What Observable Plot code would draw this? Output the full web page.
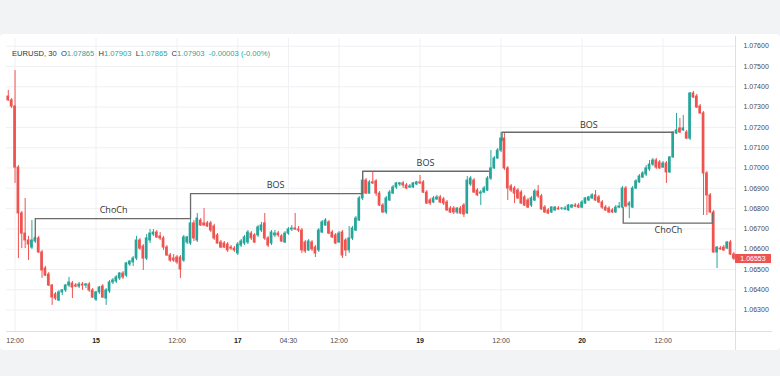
<!DOCTYPE html>
<html><head><meta charset="utf-8">
<script src="https://cdn.jsdelivr.net/npm/d3@7"></script>
<script src="https://cdn.jsdelivr.net/npm/@observablehq/plot@0.6"></script>
<style>
html,body{margin:0;padding:0;background:#f2f3f5;}
body{width:780px;height:376px;position:relative;overflow:hidden;font-family:"Liberation Sans",Arial,sans-serif;}
#card{position:absolute;left:0;top:34px;width:780px;height:316px;background:#fff;border-radius:4px;}
#chart{position:absolute;left:0;top:36px;}
#hdr{position:absolute;left:12px;top:49px;font-size:7.6px;line-height:10px;color:#333;white-space:pre;}
#hdr .v{color:#26a69a}
.sep{position:absolute;background:#dcdfe5}
#last{position:absolute;left:735px;width:36px;height:9px;background:#ef5350;color:#fff;font-size:7px;line-height:9px;text-align:center}
</style>
</head><body>
<div id="card"></div>
<div id="chart"></div>
<div class="sep" style="left:735px;top:36px;width:1px;height:314px"></div>
<div class="sep" style="left:6px;top:331px;width:766px;height:1px"></div>
<div id="hdr"></div>
<div id="last"></div>
<script>
// ---- data: EURUSD 30-minute candles (index = bar number) ----
const open = [
1.07352,1.07333,1.07303,1.07002,1.06776,1.06677,1.06643,1.06608,1.06638,1.06653,
1.06584,1.06505,1.06475,1.06421,1.06377,1.06347,1.06387,1.06397,1.06421,1.06431,
1.06421,1.06416,1.06426,1.06421,1.06426,1.06397,1.06352,1.06387,1.06416,1.06357,
1.06392,1.06436,1.06441,1.06456,1.06480,1.06470,1.06525,1.06535,1.06554,1.06643,
1.06613,1.06554,1.06643,1.06672,1.06682,1.06663,1.06653,1.06608,1.06569,1.06554,
1.06559,1.06559,1.06544,1.06633,1.06628,1.06727,1.06643,1.06741,1.06727,1.06727,
1.06727,1.06712,1.06668,1.06633,1.06628,1.06623,1.06608,1.06603,1.06579,1.06618,
1.06628,1.06633,1.06677,1.06668,1.06668,1.06692,1.06727,1.06653,1.06628,1.06668,
1.06677,1.06663,1.06633,1.06677,1.06697,1.06702,1.06697,1.06692,1.06633,1.06594,
1.06633,1.06608,1.06594,1.06682,1.06717,1.06732,1.06682,1.06668,1.06633,1.06682,
1.06643,1.06594,1.06653,1.06692,1.06741,1.06850,1.06938,1.06874,1.06929,1.06934,
1.06874,1.06815,1.06781,1.06840,1.06874,1.06904,1.06919,1.06924,1.06914,1.06904,
1.06904,1.06919,1.06929,1.06929,1.06879,1.06840,1.06830,1.06845,1.06855,1.06845,
1.06830,1.06800,1.06800,1.06781,1.06800,1.06815,1.06776,1.06919,1.06938,1.06889,
1.06874,1.06879,1.06889,1.06948,1.06998,1.07047,1.07086,1.07145,1.06998,1.06909,
1.06899,1.06889,1.06879,1.06855,1.06840,1.06815,1.06840,1.06884,1.06860,1.06805,
1.06791,1.06781,1.06791,1.06800,1.06800,1.06796,1.06791,1.06805,1.06815,1.06815,
1.06805,1.06825,1.06840,1.06850,1.06865,1.06855,1.06830,1.06805,1.06800,1.06791,
1.06781,1.06805,1.06805,1.06899,1.06815,1.06805,1.06899,1.06929,1.06953,1.06968,
1.06993,1.07017,1.07037,1.07027,1.07002,1.07022,1.06978,1.07052,1.07170,1.07195,
1.07185,1.07175,1.07145,1.07367,1.07352,1.07303,1.07269,1.06973,1.06865,1.06781,
1.06584,1.06603,1.06608,1.06603,1.06633,1.06574];
const high = [
1.07382,1.07342,1.07480,1.07012,1.06786,1.06850,1.06663,1.06741,1.06663,1.06663,
1.06594,1.06515,1.06485,1.06426,1.06387,1.06397,1.06401,1.06426,1.06461,1.06441,
1.06431,1.06436,1.06436,1.06431,1.06436,1.06406,1.06392,1.06416,1.06426,1.06406,
1.06446,1.06456,1.06470,1.06485,1.06490,1.06535,1.06544,1.06564,1.06663,1.06653,
1.06623,1.06672,1.06697,1.06697,1.06692,1.06682,1.06663,1.06618,1.06579,1.06574,
1.06569,1.06569,1.06668,1.06663,1.06751,1.06741,1.06776,1.06751,1.06800,1.06737,
1.06737,1.06722,1.06677,1.06643,1.06638,1.06633,1.06618,1.06613,1.06633,1.06648,
1.06668,1.06692,1.06687,1.06677,1.06717,1.06732,1.06776,1.06663,1.06692,1.06692,
1.06687,1.06672,1.06687,1.06707,1.06717,1.06776,1.06712,1.06702,1.06643,1.06648,
1.06643,1.06618,1.06702,1.06741,1.06751,1.06741,1.06692,1.06677,1.06687,1.06692,
1.06653,1.06712,1.06712,1.06761,1.06860,1.06983,1.06948,1.06938,1.06978,1.06943,
1.06884,1.06825,1.06860,1.06889,1.06914,1.06929,1.06929,1.06934,1.06924,1.06919,
1.06929,1.06934,1.06963,1.06938,1.06889,1.06850,1.06860,1.06865,1.06865,1.06855,
1.06840,1.06810,1.06810,1.06805,1.06810,1.06825,1.06958,1.06958,1.06948,1.06899,
1.06889,1.06909,1.06958,1.07086,1.07057,1.07096,1.07176,1.07170,1.07007,1.06919,
1.06909,1.06899,1.06889,1.06865,1.06850,1.06860,1.06894,1.06914,1.06870,1.06815,
1.06800,1.06810,1.06810,1.06810,1.06805,1.06810,1.06820,1.06820,1.06825,1.06825,
1.06840,1.06855,1.06860,1.06874,1.06889,1.06865,1.06840,1.06815,1.06810,1.06800,
1.06815,1.06830,1.06909,1.06909,1.06835,1.06909,1.06943,1.06968,1.06983,1.07012,
1.07037,1.07047,1.07047,1.07037,1.07032,1.07032,1.07057,1.07176,1.07269,1.07244,
1.07259,1.07185,1.07372,1.07377,1.07362,1.07313,1.07278,1.06983,1.06874,1.06791,
1.06613,1.06613,1.06618,1.06638,1.06643,1.06584];
const low = [
1.07328,1.07293,1.06924,1.06554,1.06603,1.06603,1.06544,1.06599,1.06628,1.06579,
1.06456,1.06465,1.06416,1.06323,1.06347,1.06342,1.06372,1.06387,1.06411,1.06357,
1.06411,1.06406,1.06397,1.06406,1.06387,1.06357,1.06342,1.06377,1.06357,1.06323,
1.06382,1.06426,1.06431,1.06446,1.06451,1.06461,1.06515,1.06515,1.06544,1.06594,
1.06495,1.06544,1.06628,1.06663,1.06653,1.06643,1.06594,1.06564,1.06535,1.06535,
1.06525,1.06456,1.06535,1.06623,1.06618,1.06638,1.06633,1.06712,1.06712,1.06707,
1.06682,1.06643,1.06623,1.06603,1.06603,1.06584,1.06594,1.06584,1.06569,1.06608,
1.06618,1.06623,1.06643,1.06628,1.06658,1.06682,1.06643,1.06608,1.06618,1.06658,
1.06658,1.06633,1.06628,1.06668,1.06687,1.06692,1.06682,1.06579,1.06579,1.06589,
1.06589,1.06559,1.06584,1.06677,1.06712,1.06672,1.06653,1.06623,1.06628,1.06554,
1.06564,1.06579,1.06643,1.06687,1.06737,1.06840,1.06870,1.06870,1.06919,1.06860,
1.06810,1.06776,1.06771,1.06835,1.06870,1.06894,1.06909,1.06899,1.06894,1.06899,
1.06899,1.06914,1.06919,1.06874,1.06820,1.06815,1.06825,1.06840,1.06825,1.06815,
1.06786,1.06776,1.06771,1.06771,1.06771,1.06756,1.06771,1.06909,1.06874,1.06860,
1.06815,1.06874,1.06884,1.06938,1.06993,1.07042,1.07076,1.06988,1.06840,1.06879,
1.06825,1.06845,1.06820,1.06810,1.06800,1.06805,1.06835,1.06850,1.06791,1.06776,
1.06771,1.06776,1.06786,1.06791,1.06791,1.06791,1.06786,1.06800,1.06805,1.06800,
1.06800,1.06820,1.06835,1.06845,1.06835,1.06825,1.06796,1.06786,1.06776,1.06776,
1.06776,1.06800,1.06800,1.06805,1.06751,1.06800,1.06894,1.06924,1.06948,1.06958,
1.06983,1.07007,1.06993,1.06993,1.06998,1.06924,1.06973,1.07047,1.07165,1.07170,
1.07180,1.07140,1.07135,1.07342,1.07293,1.07264,1.06766,1.06766,1.06776,1.06579,
1.06505,1.06594,1.06589,1.06599,1.06569,1.06544];
const close = [
1.07333,1.07303,1.07002,1.06776,1.06677,1.06643,1.06623,1.06643,1.06653,1.06584,
1.06495,1.06470,1.06421,1.06362,1.06357,1.06387,1.06397,1.06421,1.06436,1.06411,
1.06416,1.06426,1.06421,1.06426,1.06397,1.06362,1.06387,1.06411,1.06362,1.06397,
1.06436,1.06446,1.06461,1.06480,1.06461,1.06530,1.06539,1.06554,1.06643,1.06603,
1.06554,1.06653,1.06677,1.06682,1.06658,1.06653,1.06608,1.06569,1.06544,1.06544,
1.06535,1.06500,1.06658,1.06658,1.06727,1.06653,1.06751,1.06717,1.06717,1.06712,
1.06692,1.06653,1.06628,1.06608,1.06608,1.06594,1.06603,1.06594,1.06623,1.06638,
1.06658,1.06682,1.06653,1.06633,1.06707,1.06717,1.06653,1.06618,1.06682,1.06677,
1.06668,1.06638,1.06677,1.06697,1.06702,1.06697,1.06692,1.06594,1.06589,1.06638,
1.06599,1.06579,1.06692,1.06732,1.06741,1.06677,1.06658,1.06628,1.06677,1.06569,
1.06594,1.06653,1.06702,1.06751,1.06850,1.06938,1.06874,1.06929,1.06924,1.06874,
1.06815,1.06781,1.06850,1.06879,1.06904,1.06924,1.06924,1.06914,1.06899,1.06909,
1.06924,1.06929,1.06924,1.06879,1.06825,1.06825,1.06850,1.06855,1.06830,1.06825,
1.06791,1.06781,1.06781,1.06800,1.06776,1.06771,1.06938,1.06948,1.06879,1.06865,
1.06879,1.06899,1.06948,1.06998,1.07047,1.07086,1.07145,1.06998,1.06899,1.06889,
1.06874,1.06850,1.06825,1.06815,1.06805,1.06850,1.06884,1.06860,1.06796,1.06781,
1.06776,1.06805,1.06805,1.06796,1.06800,1.06800,1.06815,1.06815,1.06810,1.06805,
1.06830,1.06850,1.06855,1.06865,1.06840,1.06830,1.06805,1.06791,1.06781,1.06781,
1.06805,1.06810,1.06899,1.06810,1.06825,1.06899,1.06934,1.06958,1.06973,1.06998,
1.07017,1.07037,1.07002,1.06998,1.07022,1.06978,1.07052,1.07175,1.07185,1.07175,
1.07195,1.07145,1.07367,1.07347,1.07298,1.07269,1.06973,1.06865,1.06781,1.06584,
1.06608,1.06599,1.06594,1.06633,1.06574,1.06553];

// axis ticks
const priceTicks = [1.063,1.064,1.065,1.066,1.067,1.068,1.069,1.070,1.071,1.072,1.073,1.074,1.075,1.076];
const timeTickIdx = [2, 26, 50, 68, 83, 98, 122, 146, 170, 194];
const timeTickLabels = ["12:00","15","12:00","17","04:30","12:00","19","12:00","20","12:00"];

// market-structure annotations (bar index, price)
const structId = ["a","a","a","a","a","a","a","b","b","b","c","c","c","c"];
const structK  = [8, 8, 54, 54, 105, 105, 142.3, 146.3, 146.3, 197, 182.2, 182.2, 208.6, 208.6];
const structP  = [1.06653,1.06751,1.06751,1.06874,1.06874,1.06984,1.06984,1.07135,1.07176,1.07176,1.06805,1.06728,1.06728,1.06776];
const labelText = ["ChoCh","BOS","BOS","BOS","ChoCh"];
const labelK    = [31.2, 79.2, 123.6, 172, 195.6];
const labelP    = [1.06791, 1.06914, 1.07022, 1.07209, 1.06692];

// header values
const symbol = "EURUSD, 30";
const ohlcHeader = [["O","1.07865"],["H","1.07903"],["L","1.07865"],["C","1.07903"]];
const changeText = "-0.00003 (-0.00%)";
const lastPrice = close[close.length - 1];

// ---- build ----
const UP = "#26a69a", DOWN = "#ef5350";
const candles = open.map((o, i) => ({i, o, h: high[i], l: low[i], c: close[i], dir: close[i] >= o ? "up" : "down"}));
const structure = structK.map((k, j) => ({k, p: structP[j], id: structId[j]}));
const labels = labelText.map((t, j) => ({t, k: labelK[j], p: labelP[j]}));
const labelMap = new Map(timeTickIdx.map((k, j) => [k, timeTickLabels[j]]));
const dayTicks = timeTickIdx.filter(k => !labelMap.get(k).includes(":"));
const timeTicks = timeTickIdx.filter(k => labelMap.get(k).includes(":"));

const plot = Plot.plot({
  width: 780, height: 314,
  marginLeft: 6, marginRight: 45, marginTop: 2, marginBottom: 19,
  x: {domain: [-0.53, 215.47], label: null},
  y: {domain: [1.061946, 1.076379], label: null},
  color: {domain: ["up", "down"], range: [UP, DOWN]},
  style: {background: "transparent", fontFamily: "'Liberation Sans', Arial, sans-serif", fontSize: "7px", color: "#4a4a4a"},
  marks: [
    Plot.gridY(priceTicks, {stroke: "#eef0f4", strokeOpacity: 1}),
    Plot.gridX(timeTickIdx, {stroke: "#eef0f4", strokeOpacity: 1}),
    Plot.ruleX(candles, {x: "i", y1: "l", y2: "h", stroke: "dir", strokeWidth: 1}),
    Plot.rect(candles, {x1: d => d.i - 0.4, x2: d => d.i + 0.4, y1: "o", y2: "c", fill: "dir", insetTop: -0.5, insetBottom: -0.5}),
    Plot.line(structure, {x: "k", y: "p", z: "id", stroke: "#6a6a6a", strokeWidth: 1.3}),
    Plot.text(labels, {x: "k", y: "p", text: "t", fontSize: 9, fontFamily: "'Open Sans', sans-serif", fill: "#333"}),
    Plot.axisY(priceTicks, {anchor: "right", tickSize: 0, tickPadding: 8, tickFormat: d3.format(".5f"), fontSize: 7, label: null}),
    Plot.axisX(timeTicks, {tickSize: 0, tickPadding: 7, tickFormat: d => labelMap.get(d), fontSize: 7, label: null}),
    Plot.axisX(dayTicks, {tickSize: 0, tickPadding: 7, tickFormat: d => labelMap.get(d), fontSize: 7, fontWeight: "bold", color: "#222", label: null})
  ]
});
document.getElementById("chart").append(plot);

// header
const hdr = document.getElementById("hdr");
let html = symbol + "  ";
for (const [k, v] of ohlcHeader) html += k + '<span class="v">' + v + '</span>  ';
html += '<span class="v">' + changeText + '</span>';
hdr.innerHTML = html;

// last price label
const ly = plot.scale("y").apply(lastPrice);
const last = document.getElementById("last");
last.textContent = d3.format(".5f")(lastPrice);
last.style.top = (36 + ly - 4.5) + "px";
</script>
</body></html>
